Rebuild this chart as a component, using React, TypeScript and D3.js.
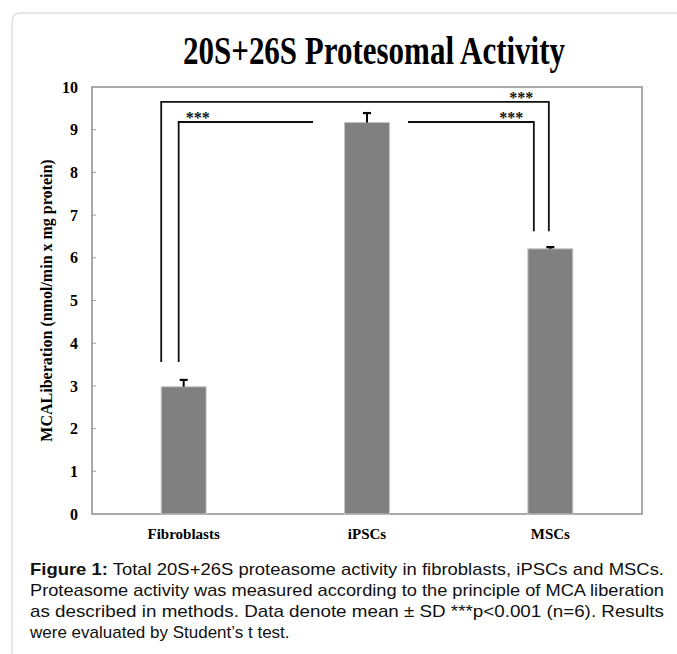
import React from "react";
import * as d3 from "d3";

const categories = ["Fibroblasts", "iPSCs", "MSCs"];
const means = [2.98, 9.17, 6.21];
const sds = [0.16, 0.22, 0.04];
const yTicks = [0, 1, 2, 3, 4, 5, 6, 7, 8, 9, 10];
const bracketLevels = { outerTop: 9.65, innerTop: 9.18, leftBottom: 3.56, rightBottom: 6.62 };
const starLabel = "***";
const title = "20S+26S Protesomal Activity";
const yLabel = "MCALiberation (nmol/min x mg protein)";
const captionLines = [
  { bold: "Figure 1:", text: " Total 20S+26S proteasome activity in fibroblasts, iPSCs and MSCs.", justify: true },
  { bold: "", text: "Proteasome activity was measured according to the principle of MCA liberation", justify: true },
  { bold: "", text: "as described in methods. Data denote mean \u00b1 SD ***p<0.001 (n=6). Results", justify: true },
  { bold: "", text: "were evaluated by Student\u2019s t test.", justify: false },
];

const W = 677;
const H = 654;
const plot = { left: 92, right: 642, top: 87, bottom: 514 };

export default function App() {
  const x = d3
    .scaleBand<string>()
    .domain(categories)
    .range([plot.left, plot.right])
    .paddingInner(0)
    .paddingOuter(0);
  const y = d3.scaleLinear().domain([0, 10]).range([plot.bottom, plot.top]);
  const bw = x.bandwidth() * 0.245;
  const cx = (c: string) => (x(c) as number) + x.bandwidth() / 2;

  const serif = "'Liberation Serif', 'Times New Roman', serif";
  const sans = "'Liberation Sans Narrow', 'Liberation Sans', Arial, sans-serif";

  const fib = cx(categories[0]);
  const ips = cx(categories[1]);
  const msc = cx(categories[2]);

  const outerPath = `M${fib - bw / 2},${y(bracketLevels.leftBottom)}V${y(bracketLevels.outerTop)}H${msc - 1.5}V${y(bracketLevels.rightBottom)}`;
  const innerLeftPath = `M${fib - 5},${y(bracketLevels.leftBottom)}V${y(bracketLevels.innerTop)}H${ips - 54}`;
  const innerRightPath = `M${ips + 41},${y(bracketLevels.innerTop)}H${msc - 16.5}V${y(bracketLevels.rightBottom)}`;

  return (
    <svg
      width={W}
      height={H}
      style={{ position: "absolute", left: 0, top: 0, background: "#fff" }}
    >
      {/* card border */}
      <path
        d={`M12,${H}V22Q12,13 21,13H${W}`}
        fill="none"
        stroke="#cfcfcf"
        strokeWidth={1}
      />
      {/* title */}
      <text
        x={183}
        y={64}
        fontFamily={serif}
        fontWeight="bold"
        fontSize={39}
        textLength={382}
        lengthAdjust="spacingAndGlyphs"
        fill="#000"
      >
        {title}
      </text>

      {/* plot frame */}
      <rect
        x={plot.left}
        y={plot.top}
        width={plot.right - plot.left}
        height={plot.bottom - plot.top}
        fill="none"
        stroke="#a0a0a0"
        strokeWidth={1.8}
      />
      {/* y ticks */}
      {yTicks.map((t) => (
        <g key={t}>
          {t > 0 && t < 10 && (
            <line x1={plot.left} x2={plot.left + 4} y1={y(t)} y2={y(t)} stroke="#a0a0a0" strokeWidth={1} />
          )}
          <text
            x={78}
            y={y(t)}
            dy="0.35em"
            textAnchor="end"
            fontFamily={serif}
            fontWeight="bold"
            fontSize={16}
            fill="#000"
          >
            {t}
          </text>
        </g>
      ))}
      {/* y label */}
      <text
        transform={`translate(52,${(plot.top + plot.bottom) / 2}) rotate(-90)`}
        textAnchor="middle"
        fontFamily={serif}
        fontWeight="bold"
        fontSize={16}
        fill="#000"
      >
        {yLabel}
      </text>

      {/* bars */}
      {categories.map((c, i) => (
        <g key={c}>
          <rect
            x={cx(c) - bw / 2}
            y={y(means[i])}
            width={bw}
            height={y(0) - y(means[i])}
            fill="#808080"
            stroke="#c4c4c4"
            strokeWidth={1}
          />
          <line
            x1={cx(c)}
            x2={cx(c)}
            y1={y(means[i])}
            y2={y(means[i] + sds[i])}
            stroke="#000"
            strokeWidth={2}
          />
          <line
            x1={cx(c) - 4}
            x2={cx(c) + 4}
            y1={y(means[i] + sds[i])}
            y2={y(means[i] + sds[i])}
            stroke="#000"
            strokeWidth={2.2}
          />
          <text
            x={cx(c)}
            y={539}
            textAnchor="middle"
            fontFamily={serif}
            fontWeight="bold"
            fontSize={15}
            fill="#000"
          >
            {c}
          </text>
        </g>
      ))}

      {/* significance brackets */}
      <path d={outerPath} fill="none" stroke="#111" strokeWidth={1.8} />
      <path d={innerLeftPath} fill="none" stroke="#111" strokeWidth={1.8} />
      <path d={innerRightPath} fill="none" stroke="#111" strokeWidth={1.8} />
      <text x={fib + 14} y={y(bracketLevels.innerTop) + 1} textAnchor="middle" fontFamily={serif} fontWeight="bold" fontSize={16} fill="#111">
        {starLabel}
      </text>
      <text x={msc - 39} y={y(bracketLevels.innerTop) + 1} textAnchor="middle" fontFamily={serif} fontWeight="bold" fontSize={16} fill="#111">
        {starLabel}
      </text>
      <text x={msc - 29} y={y(bracketLevels.outerTop) + 1} textAnchor="middle" fontFamily={serif} fontWeight="bold" fontSize={16} fill="#111">
        {starLabel}
      </text>

      {/* caption */}
      {captionLines.map((l, i) => (
        <text
          key={i}
          x={30}
          y={575 + i * 21}
          fontFamily={sans}
          fontSize={17}
          fill="#111"
          {...(l.justify ? { textLength: 634, lengthAdjust: "spacingAndGlyphs" } : {})}
        >
          {l.bold && <tspan fontWeight="bold">{l.bold}</tspan>}
          <tspan>{l.text}</tspan>
        </text>
      ))}
    </svg>
  );
}
